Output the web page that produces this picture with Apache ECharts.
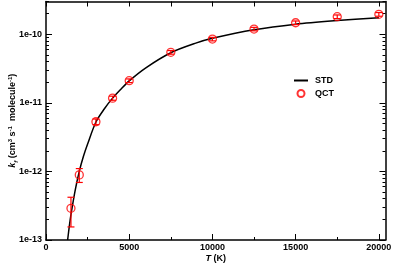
<!DOCTYPE html>
<html>
<head>
<meta charset="utf-8">
<script src="https://cdn.jsdelivr.net/npm/echarts@6/dist/echarts.min.js"></script>
<style>html,body{margin:0;padding:0;background:#fff;}#c{width:394px;height:264px;}</style>
</head>
<body>
<div id="c"></div>
<script>
// STD curve (T in K, k in cm3 s-1 molecule-1)
var stdT = [1300, 1400, 1500, 1750, 2000, 2250, 2500, 3000, 3500, 4000, 4500, 5000, 6000, 7500, 9000, 10000, 12500, 15000, 17500, 20000];
var stdK = [1.0e-13, 1.58e-13, 2.34e-13, 5.25e-13, 1.0e-12, 1.66e-12, 2.51e-12, 5.25e-12, 8.13e-12, 1.17e-11, 1.58e-11, 2.09e-11, 3.24e-11, 5.37e-11, 7.41e-11, 8.71e-11, 1.16e-10, 1.40e-10, 1.58e-10, 1.74e-10];
// QCT points with error bars
var qctT = [1500, 2000, 3000, 4000, 5000, 7500, 10000, 12500, 15000, 17500, 20000];
var qctK = [2.9e-13, 8.9e-13, 5.3e-12, 1.17e-11, 2.1e-11, 5.45e-11, 8.5e-11, 1.19e-10, 1.47e-10, 1.80e-10, 1.95e-10];
var qctLo = [1.55e-13, 6.9e-13, 4.8e-12, 1.09e-11, 1.97e-11, 5.12e-11, 8.0e-11, 1.12e-10, 1.38e-10, 1.69e-10, 1.83e-10];
var qctHi = [4.2e-13, 1.1e-12, 5.8e-12, 1.25e-11, 2.23e-11, 5.78e-11, 9.0e-11, 1.26e-10, 1.56e-10, 1.91e-10, 2.07e-10];
// ticks
var xMajor = [0, 5000, 10000, 15000, 20000];
var xMinor = [2500, 7500, 12500, 17500];
var yMajor = [1e-13, 1e-12, 1e-11, 1e-10];
var yMinor = [2e-13,3e-13,4e-13,5e-13,6e-13,7e-13,8e-13,9e-13,2e-12,3e-12,4e-12,5e-12,6e-12,7e-12,8e-12,9e-12,2e-11,3e-11,4e-11,5e-11,6e-11,7e-11,8e-11,9e-11,2e-10,3e-10];

var FONT = '"Liberation Sans", Arial, Helvetica, sans-serif';
var chart = echarts.init(document.getElementById('c'), null, {renderer: 'canvas'});

function xAx(pos, ticks, len, showLine, showLabel) {
  return {
    type: 'value', position: pos, min: 0, max: 20400,
    axisLine: {show: showLine, onZero: false, lineStyle: {color: '#000', width: 1.5}},
    axisTick: {show: true, inside: true, length: len, customValues: ticks, lineStyle: {color: '#000', width: 1}},
    axisLabel: {show: showLabel, customValues: xMajor, margin: 3, color: '#000', fontFamily: FONT, fontWeight: 'bold', fontSize: 9,
      formatter: function (v) { return String(v); }},
    splitLine: {show: false}
  };
}
function yAx(pos, ticks, len, showLine, showLabel) {
  return {
    type: 'log', logBase: 10, position: pos, min: 1e-13, max: 3e-10,
    axisLine: {show: showLine, onZero: false, lineStyle: {color: '#000', width: 1.5}},
    axisTick: {show: true, inside: true, length: len, customValues: ticks, lineStyle: {color: '#000', width: 1}},
    axisLabel: {show: showLabel, customValues: yMajor, margin: 4, color: '#000', fontFamily: FONT, fontWeight: 'bold', fontSize: 9,
      formatter: function (v) { return '1e' + Math.round(Math.log10(v)); }},
    splitLine: {show: false}
  };
}

var xAxes = [xAx('bottom', xMajor, 6, true, true), xAx('bottom', xMinor, 3, false, false), xAx('top', xMajor, 5, true, false), xAx('top', xMinor, 5, false, false)];
xAxes[0].name = '{i|T} (K)';
xAxes[0].nameLocation = 'middle';
xAxes[0].nameGap = 14;
xAxes[0].nameMoveOverlap = false;
xAxes[0].nameTextStyle = {color: '#000', fontFamily: FONT, fontWeight: 'bold', fontSize: 9,
  rich: {i: {fontStyle: 'italic', fontWeight: 'bold', fontFamily: FONT, fontSize: 9, color: '#000'}}};

var yAxes = [yAx('left', yMajor, 6, true, true), yAx('left', yMinor, 3, false, false), yAx('right', yMajor, 6, true, false), yAx('right', yMinor, 3, false, false)];
yAxes[0].name = '{i|k}{sub|f} (cm{sup|3} s{sup|-1}  molecule{sup|-1})';
yAxes[0].nameLocation = 'middle';
yAxes[0].nameRotate = 90;
yAxes[0].nameGap = 27;
yAxes[0].nameMoveOverlap = false;
var supS = {fontSize: 6, fontWeight: 'bold', fontFamily: FONT, color: '#000', verticalAlign: 'top', lineHeight: 12};
yAxes[0].nameTextStyle = {color: '#000', fontFamily: FONT, fontWeight: 'bold', fontSize: 9, lineHeight: 12,
  rich: {
    i: {fontStyle: 'italic', fontWeight: 'bold', fontFamily: FONT, fontSize: 9, color: '#000', lineHeight: 12},
    sub: {fontStyle: 'italic', fontSize: 6, fontWeight: 'bold', fontFamily: FONT, color: '#000', verticalAlign: 'bottom', lineHeight: 12},
    sup: supS
  }};

var stdData = stdT.map(function (t, i) { return [t, stdK[i]]; });
var qctData = qctT.map(function (t, i) { return [t, qctK[i]]; });
var errData = qctT.map(function (t, i) { return [t, qctLo[i], qctHi[i]]; });

chart.setOption({
  animation: false,
  backgroundColor: '#fff',
  grid: {left: 46, right: 8.5, top: 1.5, bottom: 24, containLabel: false, outerBoundsMode: 'none'},
  xAxis: xAxes,
  yAxis: yAxes,
  legend: {
    left: 288, top: 71, orient: 'vertical', itemWidth: 14, itemHeight: 7, itemGap: 4,
    textStyle: {color: '#000', fontFamily: FONT, fontWeight: 'bold', fontSize: 9, padding: [0, 0, 0, 2]},
    data: [{name: 'STD', itemStyle: {opacity: 0}}, {name: 'QCT', icon: 'circle'}]
  },
  series: [
    {
      name: 'STD', type: 'line', data: stdData, smooth: 0.3, symbol: 'none', showSymbol: false,
      xAxisIndex: 0, yAxisIndex: 0,
      lineStyle: {color: '#000', width: 1.5}, itemStyle: {color: '#000'}, z: 2
    },
    {
      name: 'QCTerr', type: 'custom', data: errData, xAxisIndex: 0, yAxisIndex: 0, z: 3,
      encode: {x: 0, y: [1, 2]},
      renderItem: function (params, api) {
        var x = api.value(0);
        var p1 = api.coord([x, api.value(1)]);
        var p2 = api.coord([x, api.value(2)]);
        var hw = 3.5;
        var st = {stroke: '#ff0000', lineWidth: 1.2};
        return {type: 'group', children: [
          {type: 'line', shape: {x1: p1[0], y1: p1[1], x2: p2[0], y2: p2[1]}, style: st},
          {type: 'line', shape: {x1: p1[0] - hw, y1: p1[1], x2: p1[0] + hw, y2: p1[1]}, style: st},
          {type: 'line', shape: {x1: p2[0] - hw, y1: p2[1], x2: p2[0] + hw, y2: p2[1]}, style: st}
        ]};
      }
    },
    {
      name: 'QCT', type: 'scatter', data: qctData, xAxisIndex: 0, yAxisIndex: 0, z: 4,
      symbol: 'circle', symbolSize: 8,
      itemStyle: {color: 'rgba(0,0,0,0)', borderColor: '#ff0000', borderWidth: 1.3}
    }
  ]
});
</script>
</body>
</html>
